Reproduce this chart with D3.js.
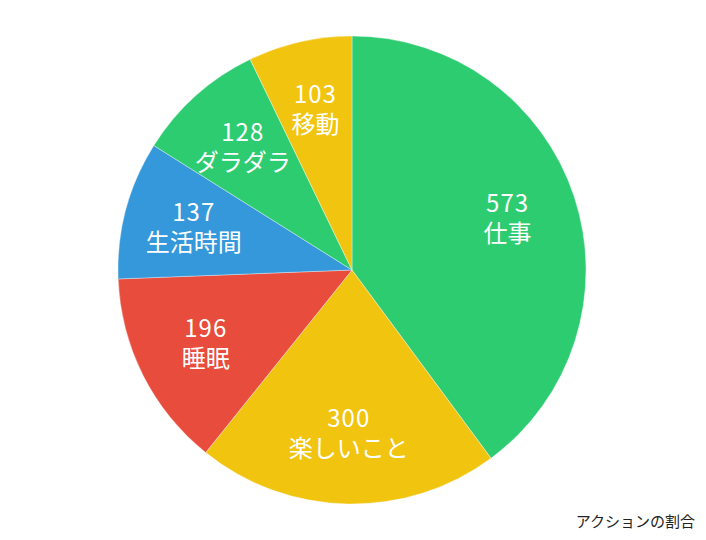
<!DOCTYPE html>
<html>
<head>
<meta charset="utf-8">
<script src="https://cdn.jsdelivr.net/npm/d3@7"></script>
<style>
  body { margin: 0; background: #fff; }
  text { font-family: "Noto Sans CJK JP", "Noto Sans", sans-serif; }
</style>
</head>
<body>
<div id="chart"></div>
<script>
// slices, clockwise from 12 o'clock
var labels = ["仕事", "楽しいこと", "睡眠", "生活時間", "ダラダラ", "移動"];
var values = [573, 300, 196, 137, 128, 103];
var colors = ["#2ecc71", "#f1c40f", "#e74c3c", "#3498db", "#2ecc71", "#f1c40f"];
var title = "アクションの割合";

var width = 706, height = 540;
var cx = 352, cy = 270, radius = 234;

var svg = d3.select("#chart").append("svg")
    .attr("width", width)
    .attr("height", height);

var g = svg.append("g")
    .attr("transform", "translate(" + cx + "," + cy + ")");

var pie = d3.pie().sort(null).value(function(d, i) { return values[i]; });
var arcs = pie(labels);

var arc = d3.arc().innerRadius(0).outerRadius(radius);
var labelArc = d3.arc().innerRadius(radius * 0.7).outerRadius(radius * 0.7);

g.selectAll("path.slice")
    .data(arcs)
  .enter().append("path")
    .attr("class", "slice")
    .attr("d", arc)
    .attr("fill", function(d, i) { return colors[i]; })
    .attr("stroke", "rgba(255,255,255,0.6)")
    .attr("stroke-width", 0.6);

var lbl = g.selectAll("text.lbl")
    .data(arcs)
  .enter().append("text")
    .attr("class", "lbl")
    .attr("transform", function(d) { return "translate(" + labelArc.centroid(d) + ")"; })
    .attr("text-anchor", "middle")
    .attr("fill", "#fff")
    .style("font-size", "24px");

lbl.append("tspan")
    .attr("x", 0)
    .attr("y", -7)
    .style("letter-spacing", "1px")
    .text(function(d, i) { return values[i]; });
lbl.append("tspan")
    .attr("x", 0)
    .attr("y", 23)
    .text(function(d, i) { return labels[i]; });

svg.append("text")
    .attr("x", 695)
    .attr("y", 527)
    .attr("text-anchor", "end")
    .attr("fill", "#222")
    .style("font-size", "15px")
    .text(title);
</script>
</body>
</html>
